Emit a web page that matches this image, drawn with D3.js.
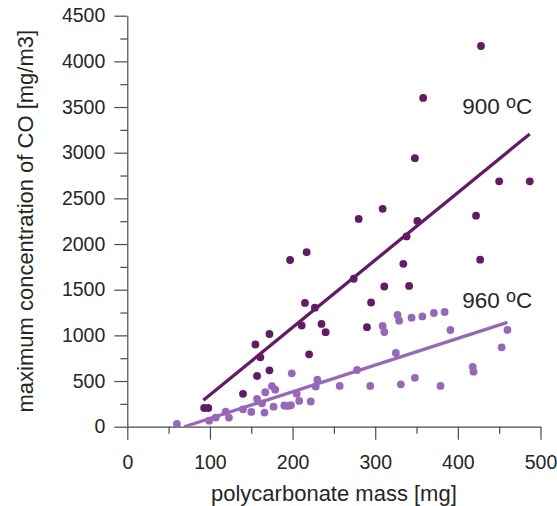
<!DOCTYPE html>
<html>
<head>
<meta charset="utf-8">
<script src="https://cdn.jsdelivr.net/npm/d3@7"></script>
<style>
  html, body { margin: 0; padding: 0; background: #fff; }
  svg { display: block; font-family: "Liberation Sans", Arial, Helvetica, sans-serif; }
</style>
</head>
<body>
<svg id="chart" width="557" height="506"></svg>
<script>
// ---- data ----
const mass900 = [93, 98, 140, 155, 157, 161, 172, 172, 197, 211, 215, 217, 220, 227, 235, 240, 274, 280, 290, 295, 309, 311, 334, 338, 341, 348, 351, 358, 422, 427, 428, 450, 487];
const co900   = [205, 205, 360, 900, 555, 760, 1015, 617, 1825, 1108, 1355, 1910, 792, 1303, 1125, 1035, 1620, 2275, 1090, 1360, 2385, 1535, 1783, 2083, 1541, 2940, 2252, 3600, 2310, 1829, 4168, 2687, 2687];

const mass960 = [60, 99, 107, 119, 123, 140, 150, 157, 163, 166, 167, 175, 179, 177, 190, 194, 198, 199, 205, 208, 222, 228, 230, 257, 278, 294, 309, 311, 325, 327, 329, 331, 344, 348, 357, 371, 379, 384, 391, 418, 419, 453, 460];
const co960   = [30, 66, 100, 164, 100, 190, 162, 305, 256, 155, 377, 445, 405, 219, 232, 228, 235, 584, 360, 282, 276, 440, 515, 446, 621, 446, 1103, 1037, 807, 1223, 1161, 464, 1194, 535, 1207, 1245, 446, 1256, 1059, 654, 602, 869, 1060];

// fitted lines as drawn in the reference (endpoints: [mass, co])
const fit900 = [[92, 290], [487, 3205]];
const fit960 = [[69, 0], [460, 1143]];

const xTicks = [0, 100, 200, 300, 400, 500];
const xMinor = [50, 150, 250, 350, 450];
const yTicks = [0, 500, 1000, 1500, 2000, 2500, 3000, 3500, 4000, 4500];
const yMinor = [250, 750, 1250, 1750, 2250, 2750, 3250, 3750, 4250];

const labels = [
  { text: "900 ", sup: "o", unit: "C", mass: 490, co: 3420 },
  { text: "960 ", sup: "o", unit: "C", mass: 490, co: 1295 }
];

const xTitle = "polycarbonate mass [mg]";
const yTitle = "maximum concentration of CO [mg/m3]";

const colDark = "#621b66";
const colLight = "#9868b8";
const axisCol = "#4a4a4a";
const textCol = "#262626";

// ---- drawing ----
const svg = d3.select("#chart");
const x = d3.scaleLinear().domain([0, 500]).range([127.3, 540.5]);
const y = d3.scaleLinear().domain([0, 4500]).range([426.7, 15.7]);
const fmt = d3.format("d");

// x axis
const gx = svg.append("g").attr("transform", `translate(0,${y(0)})`);
gx.call(d3.axisBottom(x).tickValues(xTicks).tickFormat(fmt).tickSize(13).tickSizeOuter(0).tickPadding(15));
gx.append("g").call(d3.axisBottom(x).tickValues(xMinor).tickSize(7).tickFormat(""))
  .select(".domain").remove();

// y axis
const gy = svg.append("g").attr("transform", `translate(${x(0)},0)`);
gy.call(d3.axisLeft(y).tickValues(yTicks).tickFormat(fmt).tickSize(13).tickSizeOuter(0).tickPadding(9));
gy.append("g").call(d3.axisLeft(y).tickValues(yMinor).tickSize(7).tickFormat(""))
  .select(".domain").remove();

svg.selectAll(".domain, .tick line").attr("stroke", axisCol).attr("stroke-width", 1.2);
svg.selectAll(".tick text").attr("fill", textCol).style("font-size", "19.5px")
  .style("font-family", "'Liberation Sans', Arial, sans-serif");

// points
const pts960 = mass960.map((m, i) => [m, co960[i]]);
const pts900 = mass900.map((m, i) => [m, co900[i]]);

svg.append("g").selectAll("circle").data(pts960).join("circle")
  .attr("cx", d => x(d[0])).attr("cy", d => y(d[1])).attr("r", 3.9).attr("fill", colLight);
svg.append("g").selectAll("circle").data(pts900).join("circle")
  .attr("cx", d => x(d[0])).attr("cy", d => y(d[1])).attr("r", 3.9).attr("fill", colDark);

// fit lines
const line = d3.line().x(d => x(d[0])).y(d => y(d[1]));
svg.append("path").attr("d", line(fit960)).attr("stroke", colLight).attr("stroke-width", 3.3).attr("fill", "none");
svg.append("path").attr("d", line(fit900)).attr("stroke", colDark).attr("stroke-width", 3.3).attr("fill", "none");

// series labels
labels.forEach(l => {
  const t = svg.append("text").attr("x", x(l.mass)).attr("y", y(l.co))
    .attr("text-anchor", "end").attr("fill", textCol).style("font-size", "22.5px");
  t.append("tspan").text(l.text);
  t.append("tspan").text(l.sup).attr("dy", -6).style("font-size", "18px");
  t.append("tspan").text(l.unit).attr("dy", 6);
});

// axis titles
svg.append("text").attr("x", (x(0) + x(500)) / 2).attr("y", 501)
  .attr("text-anchor", "middle").attr("fill", textCol).style("font-size", "22px").text(xTitle);
svg.append("text").attr("transform", `translate(33,${(y(0) + y(4500)) / 2}) rotate(-90)`)
  .attr("text-anchor", "middle").attr("fill", textCol).style("font-size", "22px").text(yTitle);
</script>
</body>
</html>
